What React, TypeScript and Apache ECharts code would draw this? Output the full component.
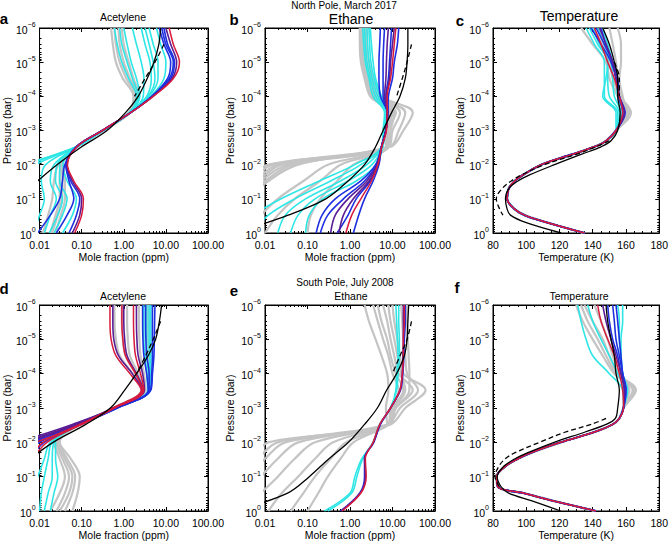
import React, { useEffect, useRef } from "react";
import * as echarts from "echarts";

// Pressure levels (bar)
const PM = [1e-6, 3e-6, 1e-5, 3e-5, 1e-4, 3e-4, 1e-3, 3e-3, 1e-2, 3e-2, 1e-1, 3e-1, 1];
const PT = [1e-6, 3e-6, 1e-5, 3e-5, 1e-4, 3e-4, 1e-3, 2e-3, 3e-3, 5e-3, 1e-2, 2e-2, 3e-2, 5e-2, 1e-1, 2e-1, 3e-1, 5e-1, 1];

const MOLE_RANGE = [0.01, 100];
const TEMP_RANGE = [80, 180];
const P_RANGE = [1e-6, 1];

// ---------- Panel a: North acetylene ----------
const aGray = [
  [0.5, 0.55, 0.65, 0.95, 1.7, 1.3, 0.32, 0.075, 0.028, 0.022, 0.02, 0.016, 0.012],
  [0.6, 0.65, 0.8, 1.15, 1.9, 1.35, 0.33, 0.078, 0.032, 0.03, 0.03, 0.024, 0.018],
  [0.75, 0.8, 1.0, 1.4, 2.1, 1.4, 0.33, 0.08, 0.036, 0.04, 0.04, 0.032, 0.024],
  [0.9, 1.0, 1.3, 1.7, 2.3, 1.42, 0.33, 0.08, 0.034, 0.035, 0.034, 0.027, 0.02],
];
const aCyan = [
  [0.6, 0.7, 0.9, 1.3, 2.0, 1.35, 0.32, 0.075, 0.004, null, null, null, null],
  [0.8, 0.9, 1.2, 1.6, 2.2, 1.37, 0.32, 0.075, 0.006, 0.002, null, null, null],
  [1.0, 1.2, 1.5, 2.0, 2.4, 1.38, 0.32, 0.075, 0.008, 0.003, null, null, null],
  [1.6, 2.0, 2.6, 3.0, 2.9, 1.4, 0.32, 0.075, 0.014, 0.011, 0.013, 0.01, 0.007],
  [2.6, 3.2, 4.2, 4.5, 3.5, 1.42, 0.32, 0.075, 0.022, 0.018, 0.025, 0.018, 0.013],
  [3.2, 4.0, 5.0, 5.5, 3.8, 1.43, 0.32, 0.075, 0.026, 0.024, 0.035, 0.027, 0.017],
  [4.0, 5.0, 6.5, 6.5, 4.0, 1.44, 0.32, 0.075, 0.03, 0.03, 0.045, 0.035, 0.022],
  [6.0, 7.5, 10, 9.0, 4.4, 1.45, 0.32, 0.075, 0.036, 0.045, 0.075, 0.06, 0.035],
];
const aBlue = [
  [7.0, 9.0, 13, 11, 4.6, 1.45, 0.31, 0.075, 0.04, 0.035, 0.03, 0.018, 0.009],
  [8.0, 10, 15, 12, 4.7, 1.45, 0.31, 0.075, 0.042, 0.05, 0.065, 0.045, 0.025],
  [9.0, 11, 16, 13, 4.8, 1.45, 0.31, 0.075, 0.043, 0.055, 0.09, 0.075, 0.05],
];
const aPurple = [[10, 13, 18, 14, 4.9, 1.45, 0.31, 0.076, 0.045, 0.06, 0.1, 0.09, 0.06]];
const aRed = [[12, 15, 21, 15, 5.0, 1.45, 0.31, 0.077, 0.046, 0.065, 0.11, 0.1, 0.068]];
const aBlack = [[7.5, 6.8, 5.2, 3.6, 2.2, 1.1, 0.4, 0.1, 0.026, 0.009, null, null, null]];
const aDash = [[null, 9.0, 5.5, 3.2, 1.8, null, null, null, null, null, null, null, null]];

// ---------- Panel b: North ethane ----------
const bGray = [
  [1.8, 1.8, 1.9, 2.3, 3.2, 9, 6, 7.5, 0.012, 0.004, null, null, null],
  [2.0, 2.0, 2.1, 2.6, 3.8, 12, 8, 8, 0.02, 0.006, null, null, null],
  [2.3, 2.2, 2.4, 3.0, 4.5, 20, 14, 8.5, 0.035, 0.008, null, null, null],
  [2.6, 2.5, 2.8, 3.5, 5.5, 30, 18, 9, 0.06, 0.012, 0.004, null, null],
  [1.7, 1.7, 1.8, 2.2, 3.0, 8, 7, 7, 0.3, 0.08, 0.02, 0.008, null],
  [2.1, 2.0, 2.2, 2.8, 4.0, 10, 7.5, 7.5, 0.6, 0.2, 0.05, 0.02, 0.01],
  [1.9, 1.9, 2.0, 2.5, 3.5, 9, 7, 7, 1.2, 0.5, 0.2, 0.12, 0.1],
  [2.4, 2.3, 2.5, 3.2, 5.0, 15, 10, 8, 0.015, 0.005, null, null, null],
  [2.2, 2.1, 2.3, 2.9, 4.2, 11, 9, 7.8, 0.025, 0.007, null, null, null],
  [2.0, 1.9, 2.1, 2.7, 3.6, 9.5, 7.5, 7.6, 0.045, 0.01, 0.003, null, null],
];
const bCyan = [
  [2.0, 2.1, 2.3, 2.8, 3.5, 6.5, 6.0, 5.5, 1.3, 0.19, 0.024, 0.005, null],
  [2.2, 2.3, 2.5, 3.0, 4.0, 7.0, 6.2, 5.6, 1.8, 0.35, 0.05, 0.012, 0.005],
  [2.5, 2.6, 2.8, 3.3, 4.5, 7.2, 6.4, 5.7, 2.5, 0.6, 0.09, 0.03, 0.02],
  [2.8, 2.9, 3.1, 3.7, 5.0, 7.5, 6.6, 5.8, 3.3, 0.9, 0.15, 0.06, 0.04],
  [3.0, 3.2, 3.5, 4.0, 5.5, 7.8, 6.8, 5.9, 4.2, 1.4, 0.23, 0.11, 0.09],
];
const bBlue = [
  [5.2, 5.0, 4.8, 4.8, 5.2, 7.5, 7.0, 5.5, 4.0, 1.8, 0.45, 0.22, 0.16],
  [6.5, 6.2, 6.0, 6.0, 6.0, 7.6, 7.0, 5.5, 4.2, 2.2, 0.7, 0.3, 0.2],
  [9.5, 9.0, 8.5, 8.0, 7.0, 7.7, 7.0, 5.5, 4.6, 3.0, 1.4, 0.9, 0.5],
  [14, 13, 11, 10, 8.0, 7.8, 7.0, 5.5, 4.8, 3.5, 2.2, 1.6, 1.2],
];
const bPurple = [
  [8.0, 7.5, 7.2, 7.0, 6.5, 7.6, 7.0, 5.5, 4.4, 2.5, 0.9, 0.45, 0.35],
  [11, 10, 9, 8.5, 7.2, 7.7, 7.0, 5.5, 4.6, 2.8, 1.2, 0.7, 0.55],
];
const bRed = [[12, 11, 10, 9, 7.5, 7.5, 7.2, 5.6, 4.5, 3.2, 1.8, 1.1, 0.8]];
const bBlack = [[23, 23, 22, 20, 15, 9.5, 6.0, 4.0, 2.2, 0.9, 0.27, 0.035, 0.002]];
const bDash = [[null, 28, 22, 17, 12.5, null, null, null, null, null, null, null, null]];

// ---------- Panel c: North temperature ----------
const cLow = [154, 148, 141, 127.5, 109, 98, 93, 89.5, 88.5, 93, 99, 113, 135];
const cGrayUp = [
  [150, 152, 154, 155, 157, 163],
  [140, 146, 150, 152, 156, 162],
  [155, 157, 157, 156, 158, 160],
  [133, 140, 148, 150, 155, 161],
];
const cCyanUp = [
  [136, 141, 147, 147, 147, 155],
  [140, 144, 149, 149, 150, 156],
  [143, 147, 151, 152, 153, 157],
  [146, 149, 152, 154, 155, 158],
  [138, 143, 149, 148, 146, 154],
];
const cBlueUp = [
  [139, 145, 151, 154, 156, 159],
  [142, 147, 152, 155, 156, 159.5],
  [145, 148, 152, 154, 155.5, 158],
];
const cPurpleUp = [[144, 148, 152, 154, 156, 159]];
const cRedUp = [[141, 145, 149, 153, 156, 158]];
const cBlack = [[146, 150, 153, 155, 155, 156.5, 155, 151, 145, 133, 117, 102, 95, 89.5, 87.5, 88.5, 90.5, 100, 121]];
const cDash = [[null, null, 153, 156, 156, null, null, 150, 142, 130, 111, 97, 91, 85.5, 82, 84, 86, null, null]];

// ---------- Panel d: South acetylene ----------
const dGray = [
  [0.6, 0.6, 0.65, 0.8, 1.6, 2.6, 0.55, 0.09, 0.025, 0.035, 0.05, 0.04, 0.025],
  [0.9, 0.9, 0.95, 1.1, 1.9, 2.8, 0.57, 0.09, 0.022, 0.03, 0.04, 0.03, 0.018],
  [1.2, 1.2, 1.25, 1.4, 2.2, 2.9, 0.58, 0.09, 0.028, 0.045, 0.07, 0.06, 0.04],
  [2.3, 2.3, 2.35, 2.5, 3.0, 3.3, 0.62, 0.09, 0.03, 0.055, 0.09, 0.08, 0.06],
  [3.8, 3.8, 3.8, 3.9, 4.0, 4.0, 0.65, 0.09, 0.027, 0.04, 0.06, 0.05, 0.03],
];
const dCyan = [
  [3.5, 3.5, 3.5, 3.6, 3.8, 3.9, 0.64, 0.09, 0.02, 0.016, 0.013, 0.011, 0.01],
  [4.0, 4.0, 4.0, 4.1, 4.2, 4.1, 0.66, 0.09, 0.022, 0.02, 0.02, 0.016, 0.013],
  [3.0, 3.0, 3.0, 3.2, 3.5, 3.7, 0.63, 0.09, 0.018, 0.013, 0.009, 0.006, null],
  [4.4, 4.4, 4.4, 4.4, 4.4, 4.2, 0.67, 0.09, 0.024, 0.024, 0.027, 0.022, 0.018],
];
const dRed = [
  [0.47, 0.47, 0.5, 0.65, 1.4, 2.6, 0.55, 0.1, 0.008, null, null, null, null],
  [0.9, 0.9, 0.95, 1.1, 1.9, 2.8, 0.57, 0.09, 0.012, 0.006, null, null, null],
  [1.7, 1.7, 1.75, 1.9, 2.5, 3.0, 0.6, 0.1, 0.015, 0.007, null, null, null],
];
const dPurple = [
  [0.55, 0.55, 0.58, 0.75, 1.6, 2.7, 0.56, 0.08, 0.005, null, null, null, null],
  [1.0, 1.0, 1.05, 1.2, 2.0, 2.9, 0.58, 0.07, 0.004, null, null, null, null],
  [2.0, 2.0, 2.05, 2.2, 2.8, 3.1, 0.6, 0.06, 0.003, null, null, null, null],
];
const dBlue = [
  [2.8, 2.8, 2.85, 3.0, 3.5, 3.8, 0.65, 0.07, 0.006, null, null, null, null],
  [3.3, 3.3, 3.35, 3.5, 4.0, 4.0, 0.66, 0.09, 0.01, 0.004, null, null, null],
  [4.8, 4.8, 4.8, 4.8, 4.6, 4.3, 0.7, 0.08, 0.007, null, null, null, null],
  [5.5, 5.4, 5.3, 5.2, 4.8, 4.4, 0.7, 0.1, 0.013, 0.006, null, null, null],
];
const dBlack = [[7.9, 7.0, 5.7, 3.8, 2.0, 1.05, 0.48, 0.125, 0.021, 0.006, null, null, null]];
const dDash = [[null, 7.5, 5.0, 3.3, 2.0, null, null, null, null, null, null, null, null]];

// ---------- Panel e: South ethane ----------
const eGray = [
  [2.2, 2.8, 4.0, 5.5, 7.5, 8, 7, 7.5, 0.012, 0.005, null, null, null],
  [3.5, 4.5, 6, 8, 10, 14, 9, 8, 0.03, 0.01, 0.004, null, null],
  [6, 7.5, 9, 11, 14, 30, 12, 8.5, 0.06, 0.02, 0.008, null, null],
  [10, 11, 13, 15, 18, 60, 20, 9, 0.15, 0.05, 0.02, 0.008, null],
  [16, 17, 18, 20, 22, 40, 15, 8, 0.4, 0.15, 0.06, 0.025, 0.012],
  [22, 22, 23, 24, 25, 25, 12, 7.5, 0.8, 0.35, 0.15, 0.08, 0.04],
  [4.5, 5.5, 7.5, 9, 12, 18, 10, 7.8, 1.2, 0.6, 0.3, 0.18, 0.1],
  [8, 9, 11, 13, 16, 20, 11, 8, 0.02, 0.007, null, null, null],
];
const eCyan = [
  [12, 12.5, 13, 13.5, 12.5, 12, 9, 5, 3.5, 1.9, 1.3, 1.0, 0.25],
  [14, 14, 14.5, 14.5, 13.5, 12.5, 9, 5, 3.5, 2.0, 1.45, 1.1, 0.3],
];
const eBlue = [[20, 20, 19, 18.5, 17.5, 15.5, 9, 5.2, 3.6, 2.2, 2.2, 1.7, 0.6]];
const ePurple = [[18, 18, 18, 17.5, 17, 15, 9, 5.1, 3.6, 2.2, 2.3, 1.75, 0.62]];
const eRed = [[19, 19, 18, 18, 17, 15, 9, 5, 3.5, 2.3, 2.4, 1.8, 0.65]];
const eBlack = [[24, 23, 22, 19, 12.5, 7.3, 4.4, 2.2, 0.92, 0.32, 0.11, 0.034, 0.002]];
const eDash = [[null, 28, 22, 15, 10, null, null, null, null, null, null, null, null]];

// ---------- Panel f: South temperature ----------
const fLow = [158.5, 156, 152, 141, 120.7, 103, 95, 87.4, 82.2, 83, 98.2, 115.8, 142];
const fGrayUp = [
  [130, 134, 140, 146, 153, 164],
  [135, 140, 146, 150, 155, 166],
  [141, 145, 149, 152, 156, 162],
  [133, 137, 143, 148, 154, 165],
];
const fCyanUp = [
  [131, 133, 136, 140, 150, 158],
  [155, 156, 156, 157, 158, 160],
  [158, 158, 157, 157, 158, 161],
  [137, 140, 145, 150, 155, 159],
];
const fBlueUp = [
  [149, 150, 152, 155, 157, 159],
  [152, 153, 154, 156, 158, 160],
  [154, 155, 156, 157, 158, 160],
];
const fPurpleUp = [[146, 148, 151, 154, 157, 159]];
const fRedUp = [[143, 145, 149, 153, 156, 158]];
const fBlack = [[148, 149, 151, 153, 154, 156, 155, 153.6, 148, 135.4, 116.8, 101, 93.3, 86.5, 82.5, 85, 89.4, 103, 120.7]];
const fDash = [[null, null, null, null, null, null, null, 148, 139, 123.6, 108, 93.3, 87.4, 83.5, 81.2, 84, null, null, null]];

const withLow = (ups: number[][], low: number[]) => ups.map((u) => [...u, ...low]);

// ---------- minor tick positions (log decades) ----------
const MINOR_MULT = [2, 3, 4, 5, 6, 7, 8, 9];
const minorLog = (lo: number, hi: number) => {
  const out: number[] = [];
  for (let e = lo; e < hi; e++) MINOR_MULT.forEach((m) => out.push(m * Math.pow(10, e)));
  return out;
};
const MINOR_X = minorLog(-2, 2);
const MINOR_Y = minorLog(-6, 0);

// ---------- styles / layout ----------
const FONT = "'Liberation Sans', Arial, Helvetica, sans-serif";
const C_GRAY = "#c4c4c4";
const C_CYAN = "#2ee6e6";
const C_BLUE = "#1e2fe0";
const C_PURPLE = "#5a1d94";
const C_RED = "#d81a3c";
const C_BLACK = "#000000";

type Group = { lines: (number | null)[][]; color: string; width: number; dash?: boolean };

const groupsOf = (g: any, c: any, b: any, p: any, r: any, k: any, d: any): Group[] => [
  { lines: g, color: C_GRAY, width: 2.2 },
  { lines: c, color: C_CYAN, width: 1.6 },
  { lines: b, color: C_BLUE, width: 1.6 },
  { lines: p, color: C_PURPLE, width: 1.6 },
  { lines: r, color: C_RED, width: 1.5 },
  { lines: k, color: C_BLACK, width: 1.3 },
  { lines: d, color: C_BLACK, width: 1.3, dash: true },
];

const PANELS = [
  { kind: "mole", P: PM, grid: { left: 38, top: 28, width: 170, height: 205 }, nameGap: 26,
    groups: groupsOf(aGray, aCyan, aBlue, aPurple, aRed, aBlack, aDash) },
  { kind: "mole", P: PM, grid: { left: 265, top: 28, width: 170, height: 205 }, nameGap: 30,
    groups: groupsOf(bGray, bCyan, bBlue, bPurple, bRed, bBlack, bDash) },
  { kind: "temp", P: PT, grid: { left: 493, top: 28, width: 170, height: 205 }, nameGap: 28,
    groups: groupsOf(withLow(cGrayUp, cLow), withLow(cCyanUp, cLow), withLow(cBlueUp, cLow),
      withLow(cPurpleUp, cLow), withLow(cRedUp, cLow), cBlack, cDash) },
  { kind: "mole", P: PM, grid: { left: 38, top: 305, width: 170, height: 206 }, nameGap: 26,
    groups: groupsOf(dGray, dCyan, dBlue, dPurple, dRed, dBlack, dDash) },
  { kind: "mole", P: PM, grid: { left: 265, top: 305, width: 170, height: 206 }, nameGap: 30,
    groups: groupsOf(eGray, eCyan, eBlue, ePurple, eRed, eBlack, eDash) },
  { kind: "temp", P: PT, grid: { left: 493, top: 305, width: 170, height: 206 }, nameGap: 28,
    groups: groupsOf(withLow(fGrayUp, fLow), withLow(fCyanUp, fLow), withLow(fBlueUp, fLow),
      withLow(fPurpleUp, fLow), withLow(fRedUp, fLow), fBlack, fDash) },
];

const TEXTS = [
  { t: "a", x: 4, y: 18, s: 15, w: "bold" },
  { t: "b", x: 234, y: 19, s: 15, w: "bold" },
  { t: "c", x: 460, y: 20, s: 15, w: "bold" },
  { t: "d", x: 4, y: 288, s: 15, w: "bold" },
  { t: "e", x: 234, y: 290, s: 15, w: "bold" },
  { t: "f", x: 457, y: 287, s: 15, w: "bold" },
  { t: "Acetylene", x: 123, y: 17, s: 10.5, w: "normal" },
  { t: "North Pole, March 2017", x: 344, y: 5, s: 10, w: "normal" },
  { t: "Ethane", x: 351, y: 19, s: 14, w: "normal" },
  { t: "Temperature", x: 579, y: 16, s: 14, w: "normal" },
  { t: "Acetylene", x: 123, y: 296, s: 10.5, w: "normal" },
  { t: "South Pole, July 2008", x: 345, y: 282, s: 10, w: "normal" },
  { t: "Ethane", x: 351, y: 296, s: 10.5, w: "normal" },
  { t: "Temperature", x: 579, y: 296, s: 10.5, w: "normal" },
];

function toData(P: number[], xs: (number | null)[]) {
  return P.map((p, i) => (xs[i] == null ? ["-", p] : [xs[i], p]));
}

function buildOption() {
  const grid: any[] = [];
  const xAxis: any[] = [];
  const yAxis: any[] = [];
  const series: any[] = [];
  const tick = { inside: true, length: 4, lineStyle: { color: "#000", width: 1 } };
  const line = { show: true, lineStyle: { color: "#000", width: 1 } };
  const lab = { color: "#000", fontSize: 10.5, fontFamily: FONT };

  PANELS.forEach((pn) => {
    grid.push({ ...pn.grid, show: true, borderColor: "#000", borderWidth: 1, backgroundColor: "transparent" });
  });

  const xBase = (pn: any, i: number) => {
    const mole = pn.kind === "mole";
    return {
      gridIndex: i,
      type: mole ? "log" : "value",
      logBase: 10,
      min: mole ? MOLE_RANGE[0] : TEMP_RANGE[0],
      max: mole ? MOLE_RANGE[1] : TEMP_RANGE[1],
      interval: mole ? undefined : 20,
      splitLine: { show: false },
    };
  };
  const yBase = (i: number) => ({
    gridIndex: i,
    type: "log",
    logBase: 10,
    min: P_RANGE[0],
    max: P_RANGE[1],
    inverse: true,
    splitLine: { show: false },
  });

  // 0..5 : bottom x axes with labels
  PANELS.forEach((pn, i) => {
    const mole = pn.kind === "mole";
    xAxis.push({
      ...xBase(pn, i),
      position: "bottom",
      axisLine: line,
      axisTick: tick,
      minorTick: mole ? { show: false } : { show: true, splitNumber: 4, length: 2, lineStyle: { color: "#000" } },
      axisLabel: {
        ...lab,
        margin: 6,
        showMinLabel: true,
        showMaxLabel: true,
        formatter: (v: number) => (mole ? Number(v).toFixed(2) : String(Math.round(v))),
      },
      name: mole ? "Mole fraction (ppm)" : "Temperature (K)",
      nameLocation: "middle",
      nameGap: 18,
      nameTextStyle: { ...lab, verticalAlign: "top" },
    });
  });
  // top x axes (major ticks)
  PANELS.forEach((pn, i) => {
    const mole = pn.kind === "mole";
    xAxis.push({
      ...xBase(pn, i),
      position: "top",
      axisLine: line,
      axisTick: tick,
      minorTick: mole ? { show: false } : { show: true, splitNumber: 4, length: 2, lineStyle: { color: "#000" } },
      axisLabel: { show: false },
    });
  });
  // minor log ticks bottom & top for mole-fraction axes
  PANELS.forEach((pn, i) => {
    if (pn.kind !== "mole") return;
    ["bottom", "top"].forEach((pos) => {
      xAxis.push({
        ...xBase(pn, i),
        position: pos,
        axisLine: { show: false },
        axisTick: { inside: true, length: 2, lineStyle: { color: "#000", width: 1 }, customValues: MINOR_X },
        axisLabel: { show: false },
      });
    });
  });

  // 0..5 : left y axes with labels
  PANELS.forEach((pn, i) => {
    yAxis.push({
      ...yBase(i),
      position: "left",
      axisLine: line,
      axisTick: tick,
      axisLabel: {
        ...lab,
        margin: 4,
        showMinLabel: true,
        showMaxLabel: true,
        formatter: (v: number) => {
          const e = Math.round(Math.log10(v));
          const s = e < 0 ? "\u2212" + Math.abs(e) : String(e);
          return "{b|10}{s|" + s + "}";
        },
        rich: {
          b: { fontSize: 10.5, fontFamily: FONT, color: "#000", lineHeight: 14, verticalAlign: "bottom" },
          s: { fontSize: 7, fontFamily: FONT, color: "#000", lineHeight: 14, verticalAlign: "top" },
        },
      },
      name: "Pressure (bar)",
      nameLocation: "middle",
      nameGap: pn.nameGap,
      nameTextStyle: { ...lab },
    });
  });
  // right y axes
  PANELS.forEach((pn, i) => {
    yAxis.push({
      ...yBase(i),
      position: "right",
      axisLine: line,
      axisTick: tick,
      axisLabel: { show: false },
    });
  });
  // minor y ticks
  PANELS.forEach((pn, i) => {
    ["left", "right"].forEach((pos) => {
      yAxis.push({
        ...yBase(i),
        position: pos,
        axisLine: { show: false },
        axisTick: { inside: true, length: 2, lineStyle: { color: "#000", width: 1 }, customValues: MINOR_Y },
        axisLabel: { show: false },
      });
    });
  });

  PANELS.forEach((pn, i) => {
    pn.groups.forEach((g) => {
      g.lines.forEach((xs) => {
        series.push({
          type: "line",
          xAxisIndex: i,
          yAxisIndex: i,
          data: toData(pn.P, xs),
          showSymbol: false,
          symbol: "none",
          smooth: 0.35,
          clip: true,
          silent: true,
          connectNulls: false,
          lineStyle: { color: g.color, width: g.width, type: g.dash ? [5, 3] : "solid" },
          emphasis: { disabled: true },
        });
      });
    });
  });

  const graphic = TEXTS.map((t) => ({
    type: "text",
    x: t.x,
    y: t.y,
    style: {
      text: t.t,
      fill: "#000",
      font: `${t.w} ${t.s}px ${FONT}`,
      fontSize: t.s,
      fontWeight: t.w,
      fontFamily: FONT,
      textAlign: "center",
      align: "center",
      textVerticalAlign: "middle",
      verticalAlign: "middle",
    },
  }));

  return { animation: false, backgroundColor: "#fff", grid, xAxis, yAxis, series, graphic };
}

export default function App() {
  const ref = useRef<HTMLDivElement>(null);
  useEffect(() => {
    if (!ref.current) return;
    const chart = echarts.init(ref.current, undefined, { renderer: "svg" });
    chart.setOption(buildOption() as any);
    return () => chart.dispose();
  }, []);
  return (
    <div
      ref={ref}
      style={{ position: "fixed", left: 0, top: 0, width: 671, height: 543, background: "#fff" }}
    />
  );
}
